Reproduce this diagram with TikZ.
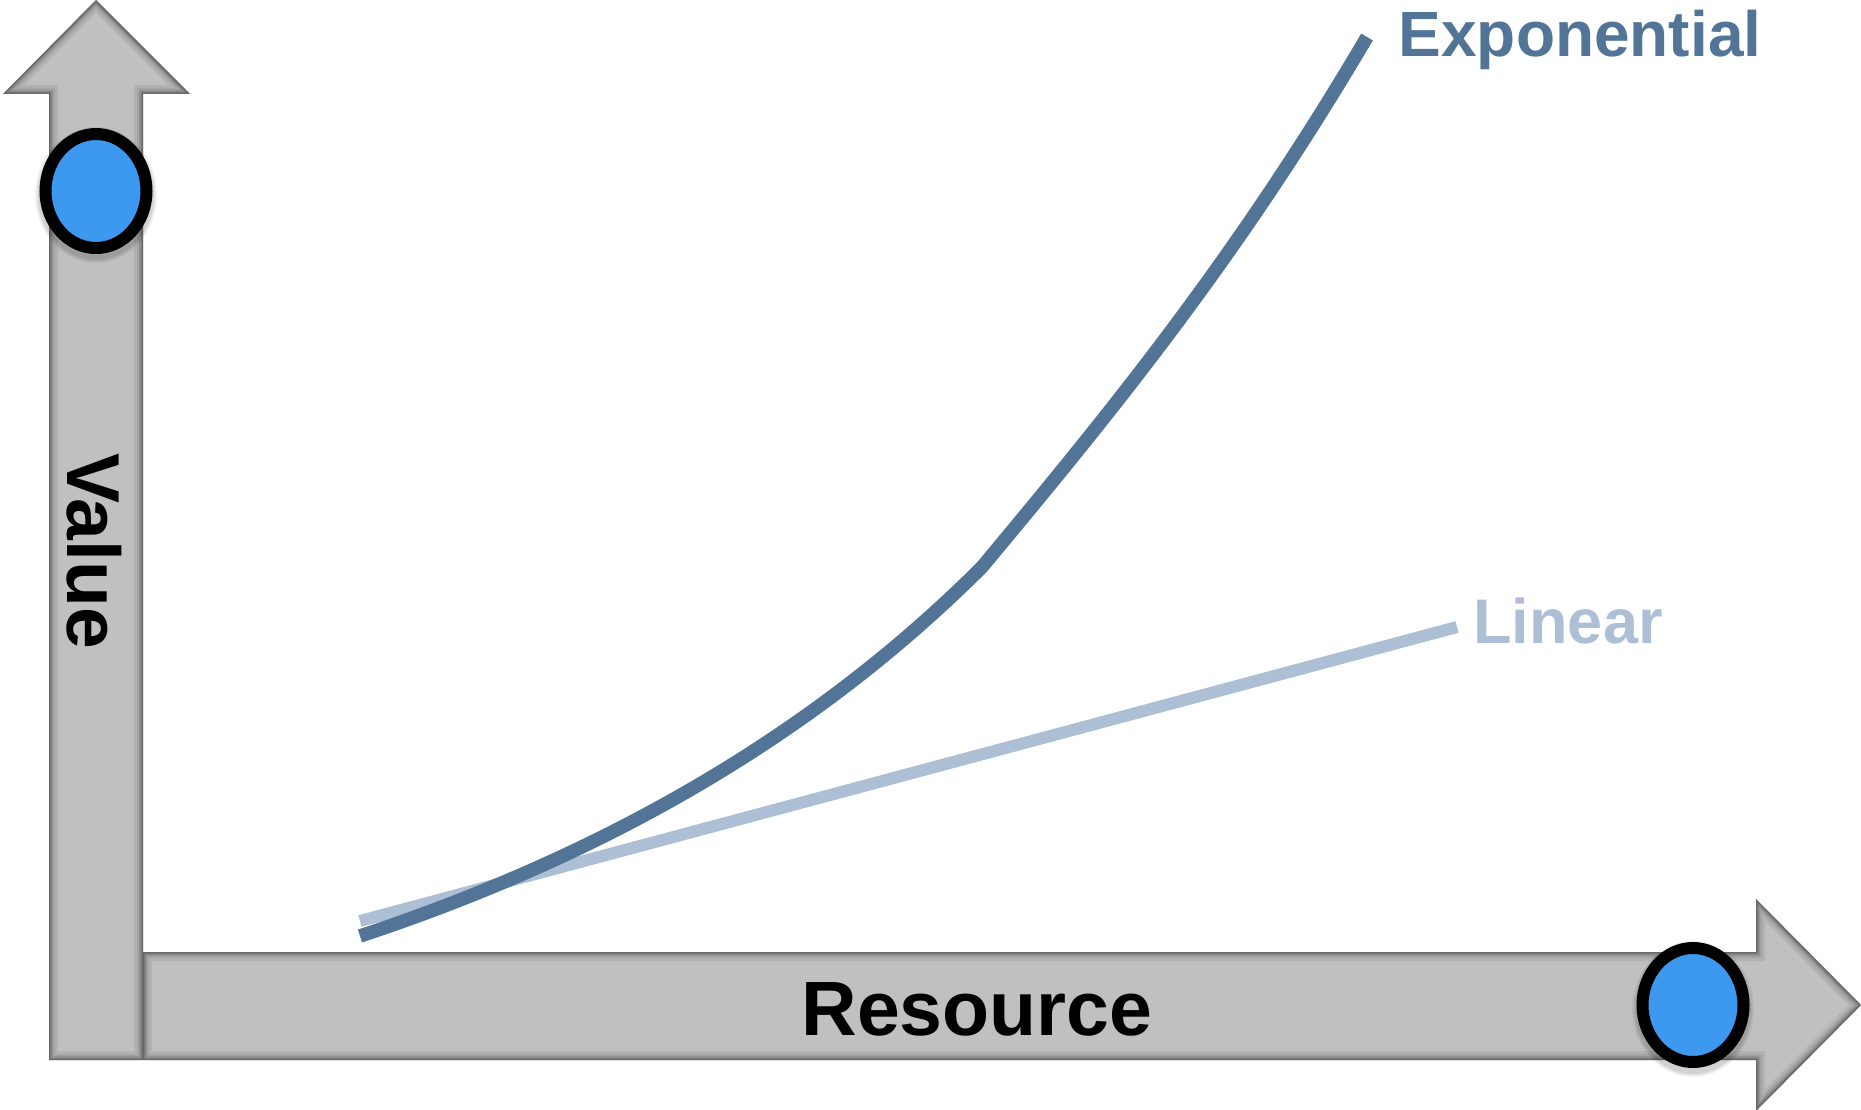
\documentclass[tikz,border=0pt]{standalone}
\usepackage{fontspec}
\setmainfont{Liberation Sans}
\definecolor{expblue}{RGB}{81,116,151}
\definecolor{linblue}{RGB}{173,191,212}
\definecolor{axisgray}{RGB}{192,192,192}
\definecolor{dotblue}{RGB}{61,153,240}
\usetikzlibrary{shapes.geometric}
\tikzset{
  vaxis/.style={insert path={(49,1060) -- (49,94) -- (3,94) -- (96,0) -- (190,94) -- (143,94) -- (143,1060) -- cycle}},
  haxis/.style={insert path={(143,952) -- (1756,952) -- (1756,899) -- (1861,1005) -- (1756,1111) -- (1756,1060) -- (143,1060) -- cycle}},
  dotshape/.style={ellipse, draw=black, line width=12pt, fill=dotblue, minimum width=101pt, minimum height=114pt, inner sep=0pt},
  curvelabel/.style={anchor=base, inner sep=0pt, font=\bfseries\fontsize{64}{70}\selectfont},
  axislabel/.style={anchor=base, inner sep=0pt, font=\bfseries\fontsize{77}{80}\selectfont, text=black},
}
\begin{document}
\begin{tikzpicture}[x=1pt,y=-1pt]
\useasboundingbox (0,0) rectangle (1861,1110);
% axes
\foreach \ax in {vaxis,haxis}{
  \fill[axisgray,\ax];
  \begin{scope}
    \clip[\ax];
    \draw[black,opacity=.07,line width=18pt,\ax];
    \draw[black,opacity=.08,line width=12pt,\ax];
    \draw[black,opacity=.10,line width=8pt,\ax];
    \draw[black,opacity=.13,line width=5pt,\ax];
    \draw[black,opacity=.18,line width=2.5pt,\ax];
  \end{scope}
}
% axis labels
\node[axislabel] (resource) at (977,1035) {Resource};
\node[axislabel, rotate=-90, font=\bfseries\fontsize{75}{80}\selectfont] (value) at (67,551) {Value};
% dots with soft shadow
\foreach \p/\n in {{(96,191)}/vdot,{(1693,1005)}/hdot}{
  \foreach \r/\o in {10/.05,7/.06,4/.08}{
    \fill[black,opacity=\o] \p ++(0,4) ellipse ({56+\r*0.5} and {63+\r*0.5});
  }
  \node[dotshape] (\n) at \p {};
}
% curves
\coordinate (linstart) at (360,921);
\coordinate (linend) at (1457,627);
\draw[linblue, line width=12pt] (linstart) -- (linend);
\coordinate (expstart) at (360,936);
\coordinate (expknee) at (982,567);
\coordinate (expend) at (1367,37);
\draw[expblue, line width=13.5pt, line join=round]
  (expstart) .. controls (620,850) and (824,725) .. (expknee)
  .. controls (1112,411) and (1237,258) .. (expend);
% curve labels
\node[curvelabel, text=expblue] (explabel) at (1580,57) {Exponential};
\node[curvelabel, text=linblue, font=\bfseries\fontsize{63}{70}\selectfont] (linlabel) at (1568,643) {Linear};
\end{tikzpicture}
\end{document}
